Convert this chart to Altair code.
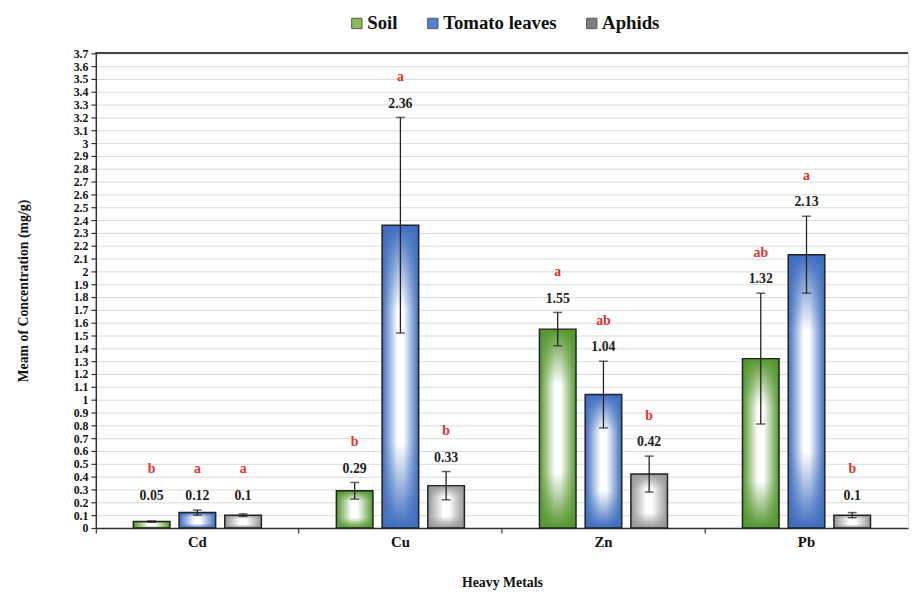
import altair as alt
import pandas as pd

metals = ["Cd", "Cu", "Zn", "Pb"]
series = ["Soil", "Tomato leaves", "Aphids"]

soil_mean = [0.05, 0.29, 1.55, 1.32]
soil_sd = [0.005, 0.065, 0.13, 0.51]
tomato_mean = [0.12, 2.36, 1.04, 2.13]
tomato_sd = [0.02, 0.84, 0.26, 0.30]
aphid_mean = [0.10, 0.33, 0.42, 0.10]
aphid_sd = [0.01, 0.11, 0.14, 0.02]

soil_letter = ["b", "b", "a", "ab"]
tomato_letter = ["a", "a", "ab", "a"]
aphid_letter = ["a", "b", "b", "b"]

legend_colors = ["#8DBB55", "#4F81CF", "#7F7F7F"]
edge_colors = [(84, 150, 46), (60, 108, 190), (150, 150, 150)]

y_ticks = [round(i * 0.1, 1) for i in range(38)]

rows = []
for s, means, sds, lets in [
    ("Soil", soil_mean, soil_sd, soil_letter),
    ("Tomato leaves", tomato_mean, tomato_sd, tomato_letter),
    ("Aphids", aphid_mean, aphid_sd, aphid_letter),
]:
    for m, mu, sd, le in zip(metals, means, sds, lets):
        rows.append(dict(metal=m, series=s, mean=mu, lo=mu - sd, hi=mu + sd,
                         labpos=max(mu + sd, 0.14), letter=le))
df = pd.DataFrame(rows)

FONT = "Liberation Serif"
YTITLE = "Meam of Concentration (mg/g)"

base = alt.Chart(df)
x_enc = alt.X("metal:N", sort=metals,
              scale=alt.Scale(paddingInner=0, paddingOuter=0),
              axis=alt.Axis(title="Heavy Metals", bandPosition=0, labelAngle=0,
                            labelFont=FONT, labelFontWeight="bold", labelFontSize=15,
                            labelColor="#111", labelPadding=2,
                            titleFont=FONT, titleFontWeight="bold", titleFontSize=14,
                            titleColor="#111", titlePadding=26,
                            domainColor="#333", domainWidth=1.5,
                            tickColor="#333", tickSize=5, tickWidth=1.2, grid=False))
xo_enc = alt.XOffset("series:N", sort=series,
                     scale=alt.Scale(domain=series, paddingInner=0.2, paddingOuter=0.82))
y_scale = alt.Scale(domain=[0, 3.7], nice=False, zero=True)
y_axis = alt.Axis(title=YTITLE, values=y_ticks, format="~g",
                  labelFont=FONT, labelFontWeight="bold", labelFontSize=12,
                  labelColor="#111", labelPadding=3, labelOverlap=False,
                  titleFont=FONT, titleFontWeight="bold", titleFontSize=14,
                  titleColor="#111", titlePadding=43,
                  domainColor="#333", domainWidth=1.5,
                  tickColor="#333", tickSize=5, tickWidth=1.2,
                  gridColor="#D9D9D9", gridWidth=1)


def Y(field):
    return alt.Y(field, scale=y_scale, axis=y_axis, title=YTITLE)


bars_base = base.mark_bar(stroke=None).encode(
    x=x_enc, xOffset=xo_enc, y=Y("mean:Q"),
    color=alt.Color("series:N", sort=series,
                    scale=alt.Scale(domain=series, range=legend_colors),
                    legend=alt.Legend(orient="none", legendX=255, legendY=-40,
                                      title=None, direction="horizontal",
                                      symbolType="square", symbolSize=110,
                                      symbolStrokeColor="#555", symbolStrokeWidth=1,
                                      labelFont=FONT, labelFontWeight="bold",
                                      labelFontSize=19, labelColor="#111",
                                      columnPadding=26, labelOffset=1)),
)

layers = [bars_base]
for s, (r, g, b) in zip(series, edge_colors):
    c1 = f"rgb({r},{g},{b})"
    c0 = f"rgba({r},{g},{b},0)"
    hgrad = alt.Gradient(gradient="linear", x1=0, x2=1, y1=0, y2=0,
                         stops=[alt.GradientStop(offset=0, color=c1),
                                alt.GradientStop(offset=0.42, color="white"),
                                alt.GradientStop(offset=0.58, color="white"),
                                alt.GradientStop(offset=1, color=c1)])
    vgrad = alt.Gradient(gradient="linear", x1=0, x2=0, y1=0, y2=1,
                         stops=[alt.GradientStop(offset=0, color=c1),
                                alt.GradientStop(offset=0.28, color=c0),
                                alt.GradientStop(offset=0.72, color=c0),
                                alt.GradientStop(offset=1, color=c1)])
    for grad in (hgrad, vgrad):
        layers.append(
            base.transform_filter(alt.datum.series == s)
            .mark_bar(fill=grad)
            .encode(x=x_enc, xOffset=xo_enc, y=Y("mean:Q"))
        )

outline = base.mark_bar(fillOpacity=0, stroke="#222", strokeWidth=1.5).encode(
    x=x_enc, xOffset=xo_enc, y=Y("mean:Q"))
layers.append(outline)

err_rule = base.mark_rule(color="#222", strokeWidth=1.3).encode(
    x=x_enc, xOffset=xo_enc, y=Y("lo:Q"), y2="hi:Q")
cap_lo = base.mark_tick(orient="horizontal", size=9, thickness=1.5, color="#222").encode(
    x=x_enc, xOffset=xo_enc, y=Y("lo:Q"))
cap_hi = base.mark_tick(orient="horizontal", size=9, thickness=1.5, color="#222").encode(
    x=x_enc, xOffset=xo_enc, y=Y("hi:Q"))
layers += [err_rule, cap_lo, cap_hi]

val_text = base.mark_text(font=FONT, fontWeight="bold", fontSize=14, color="#222",
                          baseline="middle", dy=-14).encode(
    x=x_enc, xOffset=xo_enc, y=Y("labpos:Q"),
    text=alt.Text("mean:Q", format="~g"))
let_text = base.mark_text(font=FONT, fontWeight="bold", fontSize=14, color="#E8302F",
                          baseline="middle", dy=-41).encode(
    x=x_enc, xOffset=xo_enc, y=Y("labpos:Q"),
    text="letter:N")
top_rule = base.mark_rule(color="#444", strokeWidth=1.5).encode(
    y=alt.YDatum(3.7, scale=y_scale, axis=y_axis, title=YTITLE))
layers += [val_text, let_text, top_rule]

chart = alt.layer(*layers).properties(
    width=823, height=481,
    padding={"left": 9, "top": 2, "right": 0, "bottom": 0},
).configure_view(stroke=None).configure(background="white")

chart.save("out.html", embed_options={"renderer": "svg", "actions": False})
